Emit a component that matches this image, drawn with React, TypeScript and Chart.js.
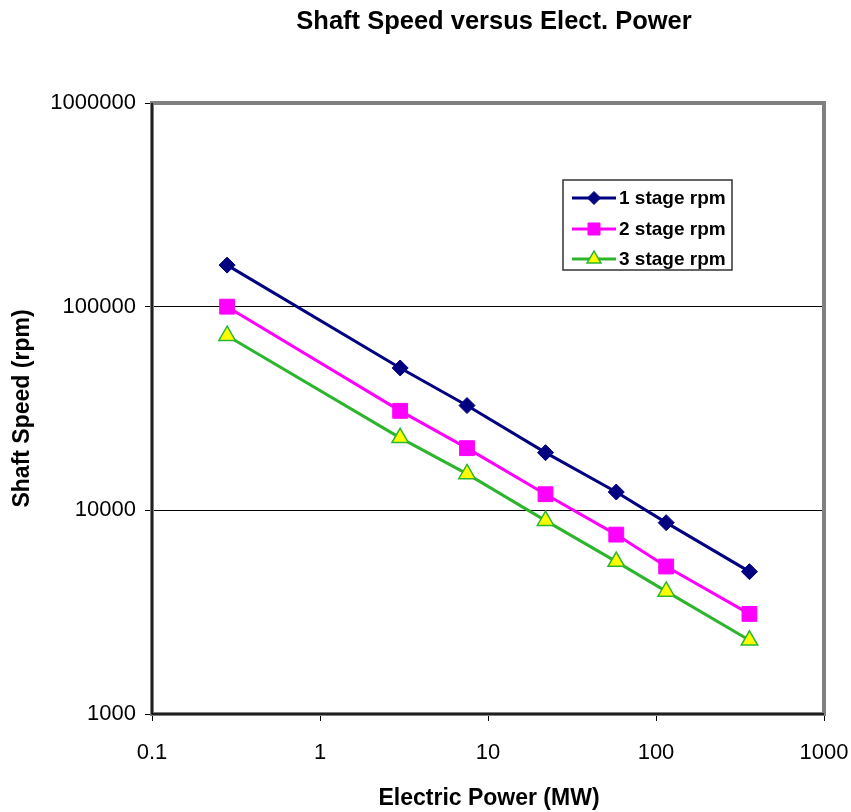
import React, { useEffect, useRef } from "react";
import { Chart, registerables } from "chart.js";

Chart.register(...registerables);

const powerMW = [0.28, 3.0, 7.5, 22, 58, 115, 360];
const stage1Rpm = [160000, 50000, 32700, 19200, 12300, 8700, 5000];
const stage2Rpm = [100000, 30800, 20200, 12000, 7600, 5300, 3100];
const stage3Rpm = [72000, 22700, 15100, 8900, 5600, 4000, 2300];
const xTicks = [0.1, 1, 10, 100, 1000];
const yTicks = [1000, 10000, 100000, 1000000];
const seriesNames = ["1 stage rpm", "2 stage rpm", "3 stage rpm"];

const FONT = '"Liberation Sans", Arial, sans-serif';
const NAVY = "#000080";
const MAGENTA = "#FF00FF";
const GREEN = "#2EB52E";
const YELLOW = "#FFFF00";

const decorPlugin = {
  id: "decor",
  beforeDatasetsDraw(chart: any) {
    const { ctx, chartArea: a } = chart;
    ctx.save();
    ctx.strokeStyle = "#808080";
    ctx.lineWidth = 4;
    ctx.strokeRect(a.left, a.top, a.right - a.left, a.bottom - a.top);
    ctx.strokeStyle = "#000";
    ctx.lineWidth = 1.5;
    ctx.beginPath();
    ctx.moveTo(a.left, a.top);
    ctx.lineTo(a.left, a.bottom);
    ctx.lineTo(a.right, a.bottom);
    ctx.stroke();
    ctx.restore();
  },
  afterDraw(chart: any) {
    const { ctx, chartArea: a } = chart;
    ctx.save();
    ctx.fillStyle = "#000";
    // title
    ctx.font = `bold 25.5px ${FONT}`;
    ctx.textAlign = "center";
    ctx.textBaseline = "alphabetic";
    ctx.fillText("Shaft Speed versus Elect. Power", (a.left + a.right) / 2 + 6, 28.5);
    // x title
    ctx.font = `bold 23px ${FONT}`;
    ctx.fillText("Electric Power (MW)", (a.left + a.right) / 2 + 1, 805);
    // y title
    ctx.save();
    ctx.translate(29, (a.top + a.bottom) / 2);
    ctx.rotate(-Math.PI / 2);
    ctx.fillText("Shaft Speed (rpm)", 0, 0);
    ctx.restore();

    // legend
    const bx = 563, by = 180, bw = 169, bh = 90;
    ctx.fillStyle = "#fff";
    ctx.fillRect(bx, by, bw, bh);
    ctx.strokeStyle = "#333";
    ctx.lineWidth = 1.5;
    ctx.strokeRect(bx, by, bw, bh);
    const rows = [198, 229, 259];
    chart.data.datasets.forEach((ds: any, i: number) => {
      const y = rows[i];
      ctx.strokeStyle = ds.borderColor;
      ctx.lineWidth = 3;
      ctx.beginPath();
      ctx.moveTo(572, y);
      ctx.lineTo(616, y);
      ctx.stroke();
      ctx.fillStyle = ds.pointBackgroundColor;
      ctx.strokeStyle = ds.pointBorderColor;
      ctx.lineWidth = ds.pointBorderWidth;
      const cx = 594;
      ctx.beginPath();
      if (i === 0) {
        const r = 6.5;
        ctx.moveTo(cx, y - r);
        ctx.lineTo(cx + r, y);
        ctx.lineTo(cx, y + r);
        ctx.lineTo(cx - r, y);
        ctx.closePath();
      } else if (i === 1) {
        ctx.rect(cx - 6, y - 6, 12, 12);
      } else {
        const r = 8;
        ctx.moveTo(cx, y - r);
        ctx.lineTo(cx + r * 0.866, y + r * 0.5);
        ctx.lineTo(cx - r * 0.866, y + r * 0.5);
        ctx.closePath();
      }
      ctx.fill();
      ctx.stroke();
      ctx.fillStyle = "#000";
      ctx.font = `bold 19px ${FONT}`;
      ctx.textAlign = "left";
      ctx.textBaseline = "middle";
      ctx.fillText(ds.label, 619, y + 1);
    });
    ctx.restore();
  },
};

export default function App() {
  const ref = useRef<HTMLCanvasElement | null>(null);
  useEffect(() => {
    document.body.style.margin = "0";
    const canvas = ref.current!;
    const mk = (arr: number[]) => powerMW.map((x, i) => ({ x, y: arr[i] }));
    const chart = new Chart(canvas, {
      type: "line",
      data: {
        datasets: [
          {
            label: seriesNames[0],
            data: mk(stage1Rpm),
            borderColor: NAVY,
            backgroundColor: NAVY,
            pointBackgroundColor: NAVY,
            pointBorderColor: NAVY,
            pointBorderWidth: 1,
            borderWidth: 3,
            pointStyle: "rectRot",
            pointRadius: 8,
          },
          {
            label: seriesNames[1],
            data: mk(stage2Rpm),
            borderColor: MAGENTA,
            backgroundColor: MAGENTA,
            pointBackgroundColor: MAGENTA,
            pointBorderColor: MAGENTA,
            pointBorderWidth: 1,
            borderWidth: 3,
            pointStyle: "rect",
            pointRadius: 10.5,
          },
          {
            label: seriesNames[2],
            data: mk(stage3Rpm),
            borderColor: GREEN,
            backgroundColor: YELLOW,
            pointBackgroundColor: YELLOW,
            pointBorderColor: GREEN,
            pointBorderWidth: 1.5,
            borderWidth: 3,
            pointStyle: "triangle",
            pointRadius: 9.5,
          },
        ],
      },
      options: {
        responsive: false,
        maintainAspectRatio: false,
        animation: false,
        layout: { padding: { top: 103, right: 27, bottom: 0, left: 0 } },
        plugins: {
          legend: { display: false },
          title: { display: false },
          tooltip: { enabled: false },
        },
        scales: {
          x: {
            type: "logarithmic",
            min: 0.1,
            max: 1000,
            afterFit: (s: any) => {
              s.height = 98;
              s.paddingLeft = 0;
              s.paddingRight = 0;
            },
            afterBuildTicks: (s: any) => {
              s.ticks = xTicks.map((v) => ({ value: v }));
            },
            border: { display: false },
            grid: {
              drawOnChartArea: false,
              drawTicks: true,
              tickLength: 7,
              tickColor: "#000",
              tickWidth: 1,
            },
            ticks: {
              autoSkip: false,
              maxRotation: 0,
              padding: 19,
              color: "#000",
              font: { family: FONT, size: 22 },
              callback: (v: any) => String(v),
            },
          },
          y: {
            type: "logarithmic",
            min: 1000,
            max: 1000000,
            afterFit: (s: any) => {
              s.width = 152;
              s.paddingTop = 0;
              s.paddingBottom = 0;
            },
            afterBuildTicks: (s: any) => {
              s.ticks = yTicks.map((v) => ({ value: v }));
            },
            border: { display: false },
            grid: {
              drawTicks: true,
              tickLength: 7,
              tickColor: "#000",
              tickWidth: 1,
              lineWidth: 1,
              color: (c: any) =>
                c.tick && (c.tick.value === 10000 || c.tick.value === 100000)
                  ? "#000"
                  : "rgba(0,0,0,0)",
            },
            ticks: {
              autoSkip: false,
              padding: 9,
              color: "#000",
              font: { family: FONT, size: 22 },
              callback: (v: any) => String(v),
            },
          },
        },
      },
      plugins: [decorPlugin],
    } as any);
    return () => chart.destroy();
  }, []);
  return (
    <div style={{ width: 851, height: 812 }}>
      <canvas ref={ref} width={851} height={812} />
    </div>
  );
}
